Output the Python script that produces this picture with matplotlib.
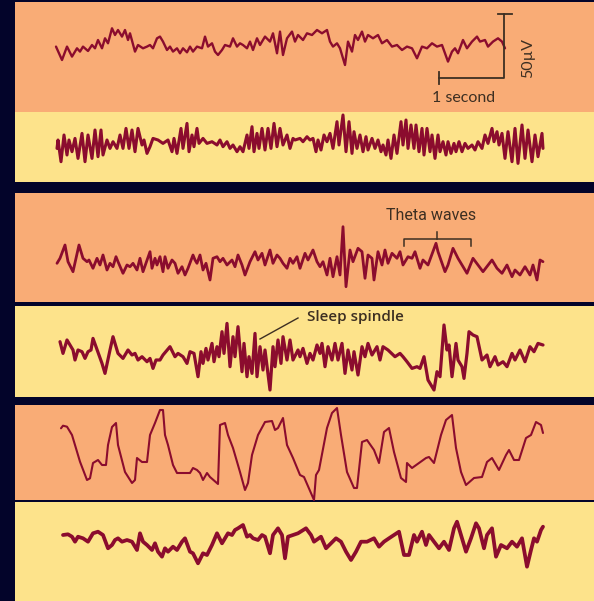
import matplotlib
matplotlib.use("Agg")
import matplotlib.pyplot as plt

# Поля фигуры (пиксели референса)
W, H = 594, 601
NAVY = "#03042a"
ORANGE = "#f9ac76"
YELLOW = "#fde38b"
TRACE = "#8b0c2e"
INK = "#3d2f22"

# Записи ЭЭГ: горизонтальная позиция отсчёта и амплитуда (1 ед. ~ 0.78 мкВ)
trace1_t = [56, 62, 67, 72, 77, 80, 83, 88, 92, 95, 98, 102, 105, 108, 112, 115, 118, 122, 125, 128,
            130, 135, 138, 143, 147, 150, 153, 157, 160, 163, 167, 170, 173, 177, 180, 183, 187, 190, 193, 197,
            202, 205, 208, 212, 215, 218, 222, 225, 230, 233, 237, 240, 243, 247, 250, 253, 257, 260, 265, 270,
            273, 277, 280, 283, 287, 292, 295, 298, 303, 307, 312, 317, 322, 327, 330, 333, 337, 340, 345, 348,
            352, 355, 358, 362, 365, 368, 373, 378, 382, 387, 392, 397, 402, 407, 412, 417, 422, 427, 432, 437,
            442, 448, 452, 455, 458, 463, 467, 472, 477, 480, 485, 488, 493, 498, 502, 505]
trace1_v = [1.7, -11.7, 1.7, -8.3, 0, -3.3, 1.7, -2.7, 3.3, 0, 8.3, 0, 10, 5, 20, 13.3, 18.3, 11.7, 18.3, 8.3,
            15, -3.3, 3.3, 0, 1.7, 3.3, 0, 10, 11.7, 6.7, -1.7, 1.7, -3.3, 0, -5, 0, -4, 1.7, -3.3, 1.7,
            0, 11.7, 1.7, 5, -3.3, -6.7, -1.7, 3.3, 1.7, 10, 1.7, 5, 3.3, 0, 6.7, -1.7, 10, 3.3, 11.7, 6.7,
            15, -5, 16.7, -6.7, 10, 16.7, 6.7, 13.3, 8.3, 15, 13.3, 18.3, 15, 18.3, 6.7, 1.7, 5, 0, -16.7, 6.7,
            -3.3, 13.3, 8.3, 16.7, 6.7, 13.3, 10, 13.3, 5, 8.3, 1.7, 3.3, -1.7, 1.7, 0, -10, 1.7, 0, 5, 1.7,
            3.3, -13.3, -3.3, 0, -5, 8.3, 0, 6.7, 11.7, 6.7, 8.3, 1.7, 6.7, 10, 6.7, 0]

trace2_t = [57, 58, 61, 64, 67, 69, 72, 75, 78, 82, 85, 88, 92, 95, 98, 101, 103, 107, 110, 113,
            117, 120, 123, 126, 129, 132, 135, 138, 142, 144, 147, 150, 153, 158, 163, 168, 172, 174, 177, 181,
            183, 187, 189, 192, 194, 197, 199, 203, 207, 212, 217, 220, 223, 227, 230, 233, 237, 240, 243, 247,
            249, 252, 254, 257, 259, 262, 265, 268, 271, 274, 277, 280, 283, 287, 290, 293,
            295, 300, 303, 307, 310, 313, 316, 318, 321, 324, 327, 330, 333, 337, 339, 343, 346, 349, 352, 354,
            357, 360, 363, 366, 368, 372, 375, 378, 381, 383, 386, 388, 391, 394, 397, 401, 403, 406, 408, 411,
            414, 416, 419, 422, 424, 427, 430, 432, 435, 438, 440, 443, 446, 448, 451, 454, 456, 459, 462, 465,
            468, 472, 475, 478, 482, 485, 488, 492, 494, 497, 499, 502, 505, 508, 512, 515, 518, 522, 525, 528,
            532, 535, 538, 542, 543]
trace2_v = [-1.7, 6.7, -15, 11.7, -8.3, 6.7, -5, 8.3, -11.7, 13.3, -15, 11.7, -11.7, 16.7, -10, 16.7, -8.3, 6.7, -1.7, 5,
            -1.7, 11.7, -1.7, 18.3, -1.7, 16.7, -5, 18.3, 1.7, 6.7, -6.7, 0, 8.3, 6.7, 3.3, 6.7, -5, 8.3, -6.7, 18.3,
            -1.7, 23.3, -5, 11.7, 0, 18.3, 3.3, 8.3, 3.3, 5, 1.7, 6.7, 0, 5, -1.7, 1.7, -5, 0, -5, 11.7,
            -1.7, 20, -5, 13.3, -1.7, 18.3, -3.3, 18.3, -1.7, 23.3, 0, 18.3, 1.7, 11.7, -1.7, 8.3,
            6.7, 8.3, 5, 10, 6.7, 8.3, -5, 6.7, -3.3, 11.7, 5, 13.3, -1.7, 25, 1.7, 31.7, -5, 25, -6.7, 15,
            -1.7, 11.7, -5, 10, -3.3, 8.3, -1.7, 6.7, -5, 1.7, -8.3, 6.7, -11.7, 11.7, -6.7, 25, 1.7, 26.7, -1.7, 21.7,
            -1.7, 21.7, -5, 18.3, -8.3, 18.3, -5, 11.7, -11.7, 11.7, -5, 5, -8.3, 5, -6.7, 3.3, -5, 5, -5, 3.3,
            -1.7, 1.7, -3.3, 5, -1.7, 11.7, 3.3, 18.3, 5, 15, 1.7, 13.3, -11.7, 15, -15, 18.3, -16.7, 21.7, -11.7, 16.7,
            -15, 11.7, -10, 13.3, -1.7]

trace3_t = [57, 60, 65, 68, 73, 79, 83, 87, 89, 93, 97, 100, 103, 107, 110, 113, 116, 118, 123, 127,
            130, 133, 137, 140, 143, 150, 152, 155, 157, 160, 163, 165, 168, 172, 175, 178, 182, 185, 188, 193,
            195, 197, 200, 203, 206, 210, 213, 217, 220, 223, 227, 232, 235, 238, 242, 245, 250, 255, 258, 262,
            265, 270, 273, 277, 280, 283, 287, 290, 293, 297, 300, 305, 308, 313, 317, 320, 323, 327, 330, 333,
            337, 340, 343, 346, 350, 353, 358, 362, 365, 368, 372, 374, 378, 382, 385, 388, 392, 397, 400, 403,
            408, 412, 415, 420, 423, 428, 436, 438, 445, 448, 453, 458, 467, 473, 478, 483, 492, 497, 502, 507,
            512, 515, 520, 525, 530, 533, 537, 540, 543]
trace3_v = [-3.3, 1.7, 15, -1.7, -11.7, 15, 1.7, -1.7, 0, -8.3, 1.7, -5, 5, -10, -3.3, -6.7, 3.3, -1.7, -13.3, -5,
            -6.7, -3.3, -10, 1.7, -11.7, 8.3, -8.3, 1.7, -5, 3.3, -11.7, 3.3, -8.3, 0, -3.3, -13.3, -6.7, -15, -8.3, 5,
            0, -3.3, 5, -10, -3.3, -20, 1.7, 3.3, -1.7, 1.7, -5, 0, -6.7, 5, -5, -15, -1.7, 8.3, 0, 6.7,
            -5, 10, -3.3, 5, 1.7, -3.3, -8.3, 1.7, -3.3, 3.3, -8.3, 6.7, 0, 10, -1.7, -6.7, -1.7, -15, 1.7, -16.7,
            3.3, -15, 33.3, -26.7, 10, -1.7, 11.7, 8.3, -18.3, 5, 1.7, -20, 8.3, -5, 10, -3.3, 6.7, 1.7, 8.3, -5,
            3.3, 1.7, 8.3, -8.3, 0, -5, 16.7, 8.3, -11.7, -5, 11.7, 1.7, -13.3, 1.7, -5, -11.7, 0, -8.3, -13.3, -5,
            -16.7, -10, -15, -6.7, -15, -5, -20, 0, -1.7]

trace4_t = [60, 63, 67, 71, 73, 75, 78, 82, 85, 88, 91, 93, 96, 102, 105, 110, 113, 118, 123, 128,
            132, 135, 138, 142, 147, 150, 153, 156, 160, 163, 170, 175, 178, 183, 187, 190, 194, 198, 201, 203,
            206, 208, 212, 214, 217, 219, 222, 224, 227, 230, 233, 235, 238, 242, 244, 247, 249, 252, 255, 257,
            260, 263, 265, 270, 273, 275, 278, 281, 283, 287, 290, 293, 298,
            300, 303, 307, 310, 313, 317, 320, 322, 325, 328, 332, 335, 338, 342, 345, 348, 352, 354, 358, 362,
            365, 368, 372, 377, 380, 383, 388, 395, 400, 403, 407, 412, 417, 420, 424, 428, 434, 437, 440, 444,
            447, 449, 452, 456, 458, 462, 464, 467, 469, 473, 477, 482, 487, 490, 495, 498, 503, 507, 512, 515,
            520, 525, 530, 534, 538, 543]
trace4_v = [10, -1.7, 11.7, 5, 1.7, -8.3, 1.7, 0, -6.7, 0, 1.7, 13.3, 5, -11.7, -21.7, 1.7, 15, -1.7, -6.7, 1.7,
            -3.3, -1.7, -8.3, -5, -10, -6.7, -16.7, -8.3, -8.3, -3.3, 5, -5, -1.7, -5, -11.7, 0, -1.7, -25, 0, -11.7,
            3.3, -8.3, 8.3, -10, 5, -5, 20, -1.7, 28.3, -15, 15, -5, 25, -20, 8.3, -25, -5, -21.7, 18.3, -25,
            5, -18.3, 1.7, -38.3, 5, -15, 11.7, -11.7, 15, -8.3, 11.7, -8.3, 1.7,
            -5, 3.3, -11.7, -1.7, -8.3, 6.7, -1.7, 8.3, -15, 5, -8.3, 8.3, -8.3, 8.3, -21.7, 1.7, -18.3, 0, -23.3, 5,
            -5, 8.3, -3.3, 5, -8.3, 5, 1.7, -5, -1.7, -5, -10, -16.7, -15, -16.7, -5, -28.3, -38.3, -20, -25, 26.7,
            1.7, 6.7, -25, 8.3, -8.3, -15, -26.7, -1.7, 20, 16.7, 15, -8.3, -3.3, -15, -5, -13.3, -10, -15, -1.7, -8.3,
            1.7, -10, 5, 0, 8.3, 6.7]

trace5_t = [61, 63, 67, 72, 80, 87, 90, 93, 98, 102, 106, 108, 112, 116, 118, 125, 132, 135, 137, 142,
            147, 150, 155, 160, 163, 165, 168, 173, 177, 182, 190, 193, 197, 200, 203, 207, 210, 218, 220, 225,
            228, 233, 240, 245, 248, 252, 258, 265, 272, 275, 278, 283, 287, 293, 300, 304, 314, 316, 319, 327,
            332, 337, 341, 347, 354, 357, 362, 367, 374, 379, 384, 389, 394, 401, 406, 407, 412, 419, 426, 429,
            434, 441, 446, 452, 456, 461, 466, 474, 482, 487, 492, 499, 506, 509, 514, 519, 526, 531, 536, 541,
            543]
trace5_v = [26.7, 29.3, 28.3, 20, -6.7, -25, -23.3, -8, -5, -10, -10, 10, 28, 32, 10, -17, -28, -25, -3, -7,
            -7, 20, 32, 45, 45, 20, 10, -10, -18, -18, -18, -13, -15, -18, -25, -18, -22, -29, 30, 32,
            20, 7, -17, -35, -28, 0, 20, 33, 34, 25, 27, 37, 10, -3, -20, -22, -45, -20, -15, 27,
            42, 47, 20, -17, -33, -33, 13, 15, 5, -8, 23, 27, 3, -23, -27, -8, -13, -8, -3, -2,
            -8, 20, 35, 40, 7, -17, -30, -23, -22, -7, -3, -15, 0, 5, -5, -5, 17, 20, 33, 30,
            22]

trace6_t = [63, 68, 72, 75, 78, 83, 88, 93, 98, 103, 108, 112, 115, 118, 122, 127, 132, 137, 140, 143,
            147, 152, 155, 158, 162, 165, 168, 173, 177, 182, 185, 190, 193, 198, 203, 207, 212, 217, 222, 225,
            228, 232, 235, 238, 243, 247, 250, 253, 258, 262, 265, 270, 273, 278, 282, 285, 288, 293, 298, 306,
            311, 314, 321, 326, 331, 336, 341, 346, 351, 356, 361, 367, 374, 379, 384, 389, 394, 399, 404, 409,
            414, 417, 422, 426, 429, 434, 439, 444, 449, 454, 457, 461, 466, 471, 476, 479, 484, 487, 492, 496,
            501, 507, 512, 517, 522, 527, 531, 534, 537, 541, 543]
trace6_v = [5, 5.7, 3.3, -1.7, 3.3, 1.7, -1.7, 6.7, 8.3, 5, -8.3, -5, 0, 1.7, -1.7, 0, -1.7, -10, 6.7, -1.7,
            -5, -10, -3.3, -11.7, -16.7, -8.3, -11.7, -6.7, -10, -1.7, 1.7, -11.7, -13.3, -23.3, -13.3, -15, -5, 6.7, -3.3, 1.7,
            6.7, 5, 10, 11.7, 15, 3.3, 5, 1.7, 0, 5, 3.3, -13.3, 5, 11.7, 5, -18.3, 3.3, 5, 6.7, 11.7,
            5, -1.7, 3.3, -8.3, -3.3, 1.7, -1.7, -11.7, -20, -11.7, -1.7, -1.7, 1.7, -6.7, -1.7, 1.7, 5, 8.3, -15, -15,
            5, -1.7, 8.3, -5, 5, -1.7, -8.3, -1.7, -10, 11.7, 18.3, 5, -11.7, 1.7, 16.7, 11.7, -8.3, 5, 11.7, -16.7,
            -5, -8.3, -1.7, -6.7, 1.7, -26.7, -10, 1.7, -1.7, 10, 13.3]

# Полосы: верх, низ, цвет, нулевая линия записи, толщина линии
panels = [
    (2, 112, ORANGE, 48.3, 1.7, trace1_t, trace1_v),
    (112, 182, YELLOW, 146.7, 2.2, trace2_t, trace2_v),
    (193, 302, ORANGE, 260, 2.0, trace3_t, trace3_v),
    (306, 397, YELLOW, 351.7, 2.3, trace4_t, trace4_v),
    (405, 500, ORANGE, 455, 1.5, trace5_t, trace5_v),
    (502, 601, YELLOW, 540, 2.7, trace6_t, trace6_v),
]

fig = plt.figure(figsize=(W / 100, H / 100), dpi=100, facecolor=NAVY)
X0 = 15

axes = []
for i, (top, bottom, color, base, lw, t, v) in enumerate(panels):
    ax = fig.add_axes([X0 / W, 1 - bottom / H, (W - X0) / W, (bottom - top) / H])
    ax.set_facecolor(color)
    ax.set_xlim(X0, W)
    ax.set_ylim(base - bottom, base - top)
    ax.set_xticks([])
    ax.set_yticks([])
    for s in ax.spines.values():
        s.set_visible(False)
    ax.plot(t, v, color=TRACE, lw=lw, solid_joinstyle="round", solid_capstyle="round", clip_on=False)
    ax.set_zorder(10 - i)
    axes.append(ax)

# Масштаб: 1 секунда и 50 мкВ
px_per_sec = 65
px_per_50uv = 64
bar_x, bar_y = 504, -29.7
ax = axes[0]
ax.plot([bar_x - px_per_sec, bar_x, bar_x], [bar_y, bar_y, bar_y + px_per_50uv], color=INK, lw=1.3)
ax.plot([bar_x - px_per_sec] * 2, [bar_y - 6, bar_y + 6], color=INK, lw=1.3)
ax.plot([bar_x - 6, bar_x + 8], [bar_y + px_per_50uv] * 2, color=INK, lw=1.3)
ax.text(bar_x - px_per_sec / 2 - 8, bar_y - 20, "1 second", ha="center", va="center",
        fontsize=11.5, color=INK, family=["Lato", "DejaVu Sans"])
ax.text(bar_x + 24, bar_y + px_per_50uv / 2 - 12, "50µV", ha="center", va="center", rotation=90,
        fontsize=11.5, color=INK, family=["Lato", "DejaVu Sans"])

# Тета-волны
ax = axes[2]
ax.plot([404, 404, 471, 471], [14, 21, 21, 14], color=INK, lw=1.1)
ax.plot([437, 437], [21, 28], color=INK, lw=1.1)
ax.text(431, 44.5, "Theta waves", ha="center", va="center", fontsize=11.5, color=INK,
        family=["Liberation Sans Narrow", "Roboto", "DejaVu Sans"])

# Сонное веретено
ax = axes[3]
ax.plot([260, 298], [12.7, 33.7], color=INK, lw=1.0)
ax.text(307, 34.7, "Sleep spindle", ha="left", va="center", fontsize=11, color=INK,
        fontweight="semibold", family=["Open Sans", "DejaVu Sans"])

fig.savefig("out.png", dpi=100, facecolor=NAVY)
